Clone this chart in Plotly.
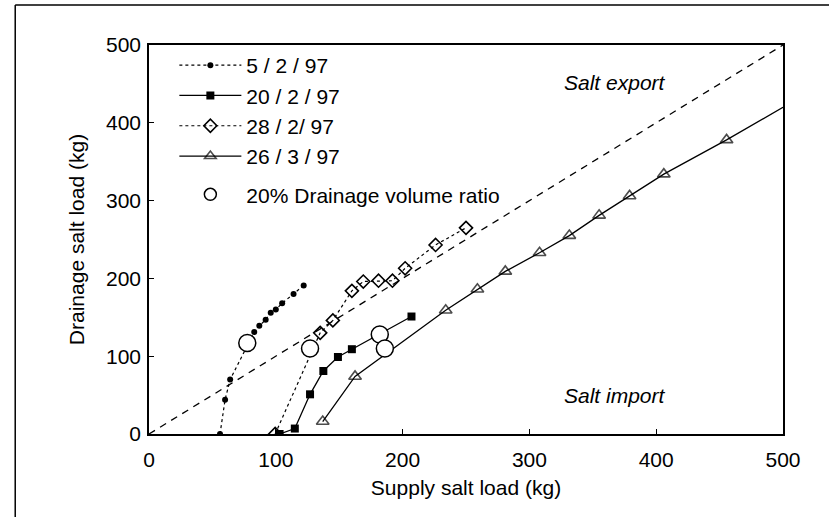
import plotly.graph_objects as go

# ---- data ----
x_0502 = [56, 60, 64, 83, 87, 92, 96, 100, 105, 114, 122]
y_0502 = [0, 44, 70, 131, 139, 147, 156, 160, 168, 180, 191]

x_2002 = [103, 115, 127, 137.5, 149, 160, 207]
y_2002 = [0, 7, 51, 81, 99, 109, 151]

x_2802 = [99.5, 135, 145, 160, 169, 181, 192, 202, 226, 250]
y_2802 = [0, 130, 146, 184, 196, 197, 197, 213, 243, 265]

x_2603 = [137, 162.5, 234, 259, 281, 308, 331.5, 355, 379, 406, 455.5, 500]
y_2603 = [16, 74, 159, 186, 209, 233, 255, 281, 306, 334, 378, 420]

x_circ = [77.5, 127, 182, 186]
y_circ = [117, 110, 128, 110]

x_one = [0, 500]
y_one = [0, 500]

legend_names = ["5 / 2 / 97", "20 / 2 / 97", "28 / 2/ 97", "26 / 3 / 97", "20% Drainage volume ratio"]

FONT = "Liberation Sans, Arial, Helvetica, sans-serif"
FS = 21

fig = go.Figure()

fig.add_trace(go.Scatter(x=x_one, y=y_one, mode="lines", showlegend=False,
                         line=dict(color="black", width=1.3, dash="7px,6px"), hoverinfo="skip"))

fig.add_trace(go.Scatter(x=x_0502, y=y_0502, mode="lines+markers", name=legend_names[0],
                         legendgroup="a",
                         line=dict(color="black", width=1.2, dash="dot"),
                         marker=dict(symbol="circle", size=6, color="black")))
fig.add_trace(go.Scatter(x=x_2002, y=y_2002, mode="lines+markers", name=legend_names[1],
                         legendgroup="a",
                         line=dict(color="black", width=1.3),
                         marker=dict(symbol="square", size=8, color="black")))
fig.add_trace(go.Scatter(x=x_2802, y=y_2802, mode="lines+markers", name=legend_names[2],
                         legendgroup="a",
                         line=dict(color="black", width=1.2, dash="dot"),
                         marker=dict(symbol="diamond-open", size=10, color="black",
                                     line=dict(width=1.6))))
sizes_2603 = [11] * (len(x_2603) - 1) + [0]
fig.add_trace(go.Scatter(x=x_2603, y=y_2603, mode="lines+markers", name=legend_names[3],
                         legendgroup="a",
                         line=dict(color="black", width=1.3),
                         marker=dict(symbol="triangle-up-open", size=sizes_2603, color="black",
                                     line=dict(width=1.6))))
fig.add_trace(go.Scatter(x=x_circ, y=y_circ, mode="markers", showlegend=False,
                         marker=dict(symbol="circle", size=17, color="white",
                                     line=dict(color="black", width=1.5))))
# legend proxy for circles (smaller symbol as in reference legend)
fig.add_trace(go.Scatter(x=[None], y=[None], mode="markers", name=legend_names[4],
                         legendgroup="b",
                         marker=dict(symbol="circle-open", size=12, color="black",
                                     line=dict(width=1.5))))

axis_common = dict(range=[0, 500], dtick=100, showgrid=False, zeroline=False,
                   showline=True, linecolor="black", linewidth=1.5, mirror=True,
                   ticks="inside", ticklen=5, tickcolor="black", tickwidth=1,
                   tickfont=dict(family=FONT, size=FS, color="black"))

fig.update_layout(
    width=829, height=517,
    margin=dict(l=149, r=46, t=45, b=83),
    paper_bgcolor="white", plot_bgcolor="white",
    font=dict(family=FONT, size=FS, color="black"),
    xaxis=dict(**axis_common, ticklabelstandoff=6,
               title=dict(text="Supply salt load (kg)", standoff=10,
                          font=dict(family=FONT, size=FS))),
    yaxis=dict(**axis_common, ticklabelstandoff=2,
               title=dict(text="Drainage salt load (kg)", standoff=16,
                          font=dict(family=FONT, size=FS))),
    legend=dict(x=0.04, y=1.0, xanchor="left", yanchor="top", bgcolor="rgba(0,0,0,0)",
                font=dict(family=FONT, size=FS), traceorder="grouped", tracegroupgap=8,
                itemwidth=62),
    annotations=[
        dict(x=326, y=452, xref="x", yref="y", text="<i>Salt export</i>", showarrow=False,
             xanchor="left", yanchor="middle", font=dict(family=FONT, size=FS)),
        dict(x=326, y=50, xref="x", yref="y", text="<i>Salt import</i>", showarrow=False,
             xanchor="left", yanchor="middle", font=dict(family=FONT, size=FS)),
    ],
    shapes=[
        dict(type="line", xref="paper", yref="paper", x0=-0.211, x1=1.08, y0=1.103, y1=1.103,
             line=dict(color="black", width=1.5)),
        dict(type="line", xref="paper", yref="paper", x0=-0.211, x1=-0.211, y0=1.103, y1=-0.215,
             line=dict(color="black", width=1.5)),
    ],
)

fig.write_html("out.html")
